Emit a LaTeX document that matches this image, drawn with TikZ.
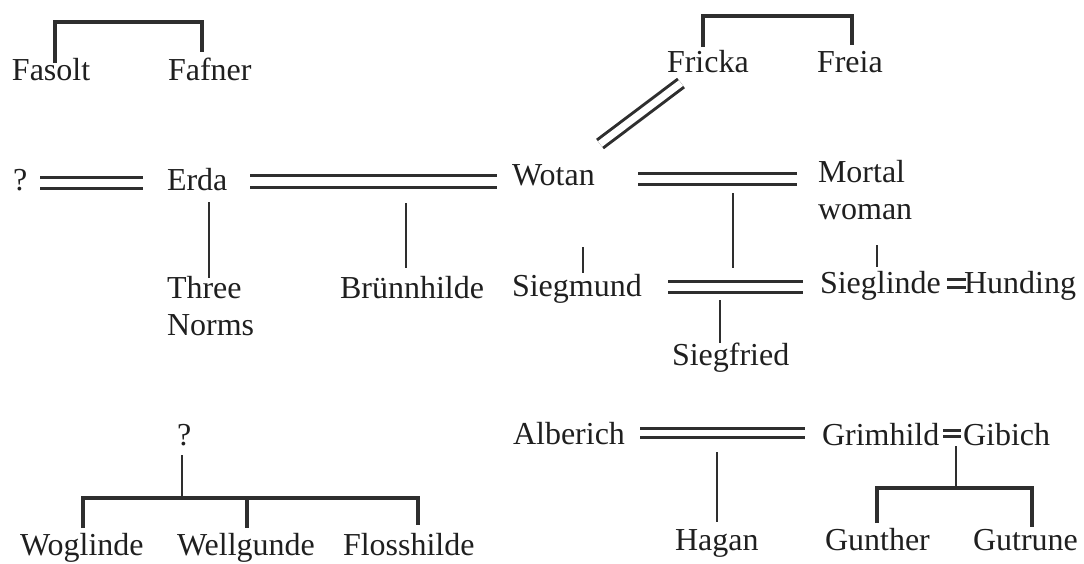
\documentclass[tikz,border=0pt]{standalone}
\usepackage{fontspec}
\setmainfont{Liberation Serif}
\begin{document}
\begin{tikzpicture}[x=1pt,y=-1pt,
  every node/.style={inner sep=0pt,outer sep=0pt,text=black!88,
    font=\fontsize{32}{36.5}\selectfont},
  lbl/.style={anchor=base west},
  twoline/.style={anchor=north west,align=left},
  kin/.style={draw=black!82,line width=2.8pt},
  sib/.style={draw=black!82,line width=3.8pt,line cap=butt,line join=miter},
  marry/.style={draw=black!82,line width=3pt,double=white,double distance=#1},
  marry/.default=8pt]
\useasboundingbox (0,0) rectangle (1084,563);

% --- names ---
\node[lbl] (Fasolt)  at (12,80)   {Fasolt};
\node[lbl] (Fafner)  at (168,80)  {Fafner};
\node[lbl] (Fricka)  at (667,72)  {Fricka};
\node[lbl] (Freia)   at (817,72)  {Freia};
\node[lbl] (q1)      at (13,190)  {?};
\node[lbl] (Erda)    at (167,190) {Erda};
\node[lbl] (Wotan)   at (512,185) {Wotan};
\node[twoline] (Mortal)  at (818,160.5) {Mortal\\woman};
\node[twoline] (Norns)   at (167,276.5) {Three\\Norms};
\node[lbl] (Brunn)   at (340,298) {Brünnhilde};
\node[lbl] (Siegmund) at (512,296) {Siegmund};
\node[lbl] (Sieglinde) at (820,293) {Sieglinde};
\node[lbl] (Hunding) at (964,293) {Hunding};
\node[lbl] (Siegfried) at (672,365) {Siegfried};
\node[lbl] (q2)      at (177,445) {?};
\node[lbl] (Woglinde) at (20,555) {Woglinde};
\node[lbl] (Wellgunde) at (177,555) {Wellgunde};
\node[lbl] (Flosshilde) at (343,555) {Flosshilde};
\node[lbl] (Alberich) at (513,444) {Alberich};
\node[lbl] (Grimhild) at (822,445) {Grimhild};
\node[lbl] (Gibich)  at (963,445) {Gibich};
\node[lbl] (Hagan)   at (675,550) {Hagan};
\node[lbl] (Gunther) at (825,550) {Gunther};
\node[lbl] (Gutrune) at (973,550) {Gutrune};

% --- line ends ---
\coordinate (giA) at (55,63);   \coordinate (giB) at (202,52);  \coordinate (giT) at (0,22);
\coordinate (goA) at (703,47);  \coordinate (goB) at (852,45);  \coordinate (goT) at (0,16);
\coordinate (m1a) at (40,182.5);  \coordinate (m1b) at (143,182.5);
\coordinate (m2a) at (250,181);   \coordinate (m2b) at (497,181);
\coordinate (m3a) at (638,178.5); \coordinate (m3b) at (797,178.5);
\coordinate (m4a) at (681,83);    \coordinate (m4b) at (600,144);
\coordinate (m5a) at (668,286.5); \coordinate (m5b) at (803,286.5);
\coordinate (m6a) at (947,283.5); \coordinate (m6b) at (966,283.5);
\coordinate (m7a) at (640,433);   \coordinate (m7b) at (805,433);
\coordinate (m8a) at (943,433.5); \coordinate (m8b) at (961,433.5);
\coordinate (c1) at (209,202);  \coordinate (c1e) at (209,278);
\coordinate (c2) at (406,203);  \coordinate (c2e) at (406,268);
\coordinate (c3) at (733,193);  \coordinate (c3e) at (733,268);
\coordinate (c4) at (583,247);  \coordinate (c4e) at (583,273);
\coordinate (c5) at (877,245);  \coordinate (c5e) at (877,267);
\coordinate (c6) at (720,300);  \coordinate (c6e) at (720,343);
\coordinate (c7) at (717,452);  \coordinate (c7e) at (717,522);
\coordinate (r0) at (182,455);  \coordinate (r1) at (182,498);
\coordinate (rA) at (83,528);   \coordinate (rB) at (247,528);  \coordinate (rC) at (418,525);
\coordinate (g0) at (956,446);  \coordinate (g1) at (956,488);
\coordinate (gA) at (877,523);  \coordinate (gB) at (1032,527);

% --- siblings brackets ---
\draw[sib] (giA) -- (giA |- giT) -- (giB |- giT) -- (giB);
\draw[sib] (goA) -- (goA |- goT) -- (goB |- goT) -- (goB);

% --- marriages ---
\draw[marry] (m1a) -- (m1b);
\draw[marry=9pt] (m2a) -- (m2b);
\draw[marry] (m3a) -- (m3b);
\draw[marry=7pt] (m4a) -- (m4b);
\draw[marry] (m5a) -- (m5b);
\draw[marry=5pt] (m6a) -- (m6b);
\draw[marry=5.6pt] (m7a) -- (m7b);
\draw[marry=3.4pt,line width=2.6pt] (m8a) -- (m8b);

% --- descent ---
\draw[kin] (c1) -- (c1e);
\draw[kin] (c2) -- (c2e);
\draw[kin] (c3) -- (c3e);
\draw[kin] (c4) -- (c4e);
\draw[kin] (c5) -- (c5e);
\draw[kin] (c6) -- (c6e);
\draw[kin] (c7) -- (c7e);
\draw[kin] (r0) -- (r1);
\draw[sib] (rA) -- (rA |- r1) -- (rC |- r1) -- (rC);
\draw[sib] (rB |- r1) -- (rB);
\draw[kin] (g0) -- (g1);
\draw[sib] (gA) -- (gA |- g1) -- (gB |- g1) -- (gB);
\end{tikzpicture}
\end{document}
